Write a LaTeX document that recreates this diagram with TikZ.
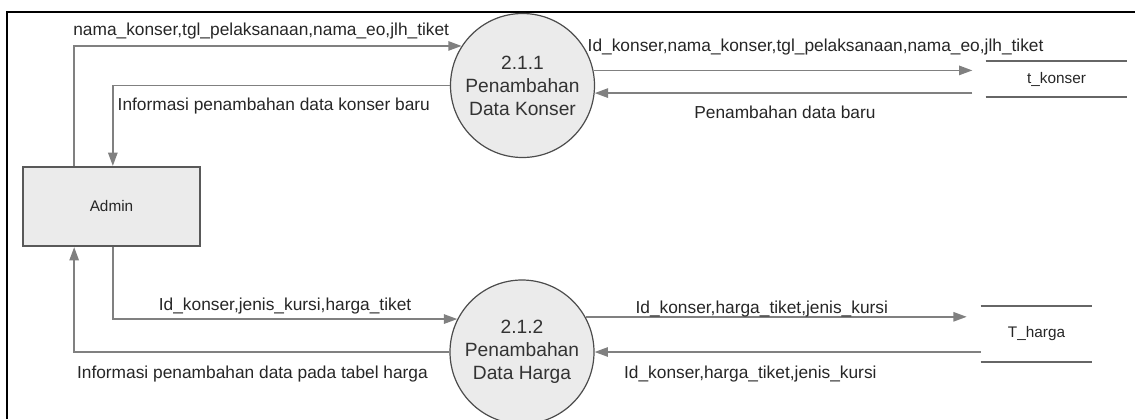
\documentclass[tikz,border=0pt]{standalone}
\usepackage{fontspec}
\setmainfont{Liberation Sans}
\usetikzlibrary{arrows.meta}

\begin{document}
\begin{tikzpicture}[x=0.75pt, y=-0.75pt, % 1 unit = 1 pixel, y downwards
  flow/.style={draw=black!50, line width=1.3pt, -{Triangle[length=10pt, width=7pt]}}, % data flow
  lbl/.style={font=\fontsize{13}{15}\selectfont, text=black!85, inner sep=3pt},
  proc/.style={circle, draw=black!70, line width=0.9pt, fill=black!8, minimum size=108pt, inner sep=0pt,
    align=center, font=\fontsize{14.4}{17.3}\selectfont, text=black!80}, % process
  entity/.style={draw=black!65, line width=1.6pt, fill=black!8, minimum width=132.75pt, minimum height=59.25pt,
    font=\fontsize{11.5}{13}\selectfont, text=black!85}, % external entity
  store/.style={inner sep=0pt, font=\fontsize{11.5}{13}\selectfont, text=black!85},
  storeline/.style={draw=black!60, line width=1.4pt}]
  \useasboundingbox (0,0) rectangle (1135,419);
  \draw[line width=1.2pt] (7,419) -- (7,12) -- (1135,12); % frame

  \node[entity] (admin) at (111.5,206.5) {Admin};
  \node[proc] (p1) at (522.5,85.5) {2.1.1\\Penambahan\\Data Konser};
  \node[proc] (p2) at (522,352) {2.1.2\\Penambahan\\Data Harga};

  % data stores
  \node[store, minimum width=105.75pt, minimum height=27pt] (tk) at (1056.5,79) {t\_konser};
  \node[store, minimum width=83.25pt, minimum height=42pt] (th) at (1036.5,334) {T\_harga};
  \draw[storeline] (tk.north west) -- (tk.north east) (tk.south west) -- (tk.south east);
  \draw[storeline] (th.north west) -- (th.north east) (th.south west) -- (th.south east);

  % 2.1.1
  \draw[flow] ([xshift=-28pt]admin.north) |- (p1.147) node[lbl, above, pos=.75, xshift=-5pt, yshift=1.5pt] {nama\_konser,tgl\_pelaksanaan,nama\_eo,jlh\_tiket};
  \draw[flow] (p1.west) -| ([xshift=1pt]admin.north) node[lbl, below right, pos=.5, yshift=-6pt] {Informasi penambahan data konser baru};
  \draw[flow, shorten >=10pt] (p1.12.5) -- (tk.west |- p1.12.5) node[lbl, above right, pos=0, xshift=-8pt, yshift=8pt] {Id\_konser,nama\_konser,tgl\_pelaksanaan,nama\_eo,jlh\_tiket};
  \draw[flow, shorten <=10pt] (tk.west |- p1.-6) -- (p1.-6) node[lbl, below, midway, xshift=-4pt, yshift=-6pt] {Penambahan data baru};

  % 2.1.2
  \draw[flow] ([xshift=1pt]admin.south) |- (p2.153) node[lbl, above, pos=.75] {Id\_konser,jenis\_kursi,harga\_tiket};
  \draw[flow] (p2.west) -| ([xshift=-28pt]admin.south) node[lbl, below, pos=.25, xshift=-7pt, yshift=-6.5pt] {Informasi penambahan data pada tabel harga};
  \draw[flow, shorten >=10.5pt] (p2.29.4) -- (th.west |- p2.29.4) node[lbl, above, midway, xshift=-16pt, yshift=-4pt] {Id\_konser,harga\_tiket,jenis\_kursi};
  \draw[flow] (th.west |- p2.east) -- (p2.east) node[lbl, below, midway, xshift=-28pt, yshift=-6.5pt] {Id\_konser,harga\_tiket,jenis\_kursi};
\end{tikzpicture}
\end{document}
